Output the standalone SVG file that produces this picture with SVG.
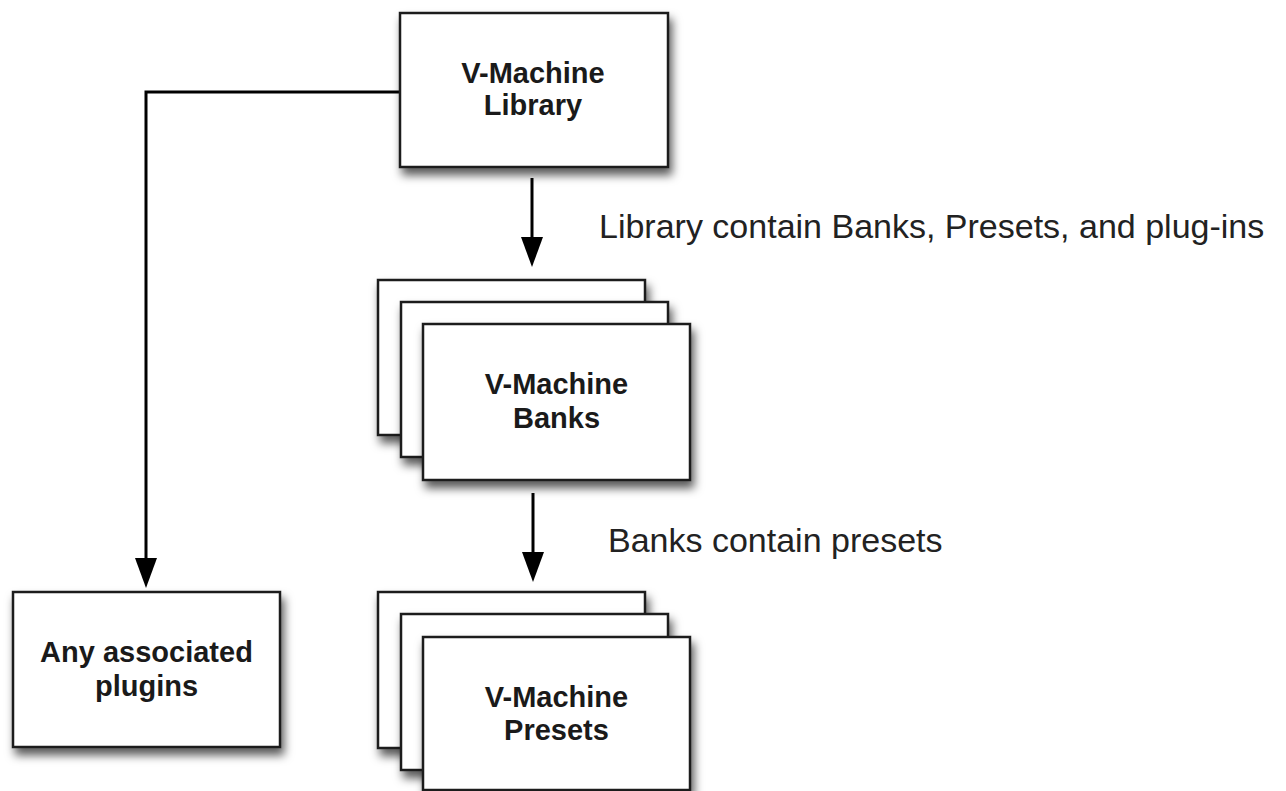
<svg xmlns="http://www.w3.org/2000/svg" width="1286" height="791" viewBox="0 0 1286 791">
<style>
.box{fill:#fff;stroke:#1a1a1a;stroke-width:2.5;filter:url(#sh)}
.t{font-family:"Liberation Sans",Arial,sans-serif;font-weight:bold;font-size:29px;fill:#1a1a1a;text-anchor:middle}
.lbl{font-family:"Liberation Sans",Arial,sans-serif;font-size:34px;fill:#222}
.conn{fill:none;stroke:#000;stroke-width:3}
</style>
<defs>
<filter id="sh" x="-10%" y="-10%" width="130%" height="140%">
<feDropShadow dx="3" dy="7" stdDeviation="5" flood-color="#000" flood-opacity="0.65"/>
</filter>
<marker id="ah" markerUnits="userSpaceOnUse" markerWidth="40" markerHeight="30" viewBox="0 -15 40 30" refX="10" refY="0" orient="auto" overflow="visible">
<path d="M0,-11 L30,0 L0,11 z" fill="#000"/>
</marker>
</defs>
<rect width="1286" height="791" fill="#fff"/>
<g id="connectors">
<line class="conn" x1="532" y1="178" x2="532" y2="247" marker-end="url(#ah)"/>
<line class="conn" x1="533" y1="493" x2="533" y2="562" marker-end="url(#ah)"/>
<polyline class="conn" points="400,92 146,92 146,568" marker-end="url(#ah)"/>
</g>
<g id="library">
<rect class="box" x="400" y="13" width="268" height="154"/>
<text class="t" x="533" y="83">V-Machine</text>
<text class="t" x="533" y="115">Library</text>
</g>
<g id="banks">
<rect class="box" x="378" y="280" width="267" height="155"/>
<rect class="box" x="401" y="302" width="267" height="155"/>
<rect class="box" x="423" y="324" width="267" height="156"/>
<text class="t" x="556.5" y="394">V-Machine</text>
<text class="t" x="556.5" y="428">Banks</text>
</g>
<g id="plugins">
<rect class="box" x="13" y="592" width="267" height="155"/>
<text class="t" x="146.5" y="662">Any associated</text>
<text class="t" x="146.5" y="696">plugins</text>
</g>
<g id="presets">
<rect class="box" x="378" y="592" width="267" height="156"/>
<rect class="box" x="401" y="614" width="267" height="156"/>
<rect class="box" x="423" y="637" width="267" height="153"/>
<text class="t" x="556.5" y="707">V-Machine</text>
<text class="t" x="556.5" y="740">Presets</text>
</g>
<g id="labels">
<text class="lbl" x="599" y="238">Library contain Banks, Presets, and plug-ins</text>
<text class="lbl" x="608" y="552">Banks contain presets</text>
</g>
</svg>
